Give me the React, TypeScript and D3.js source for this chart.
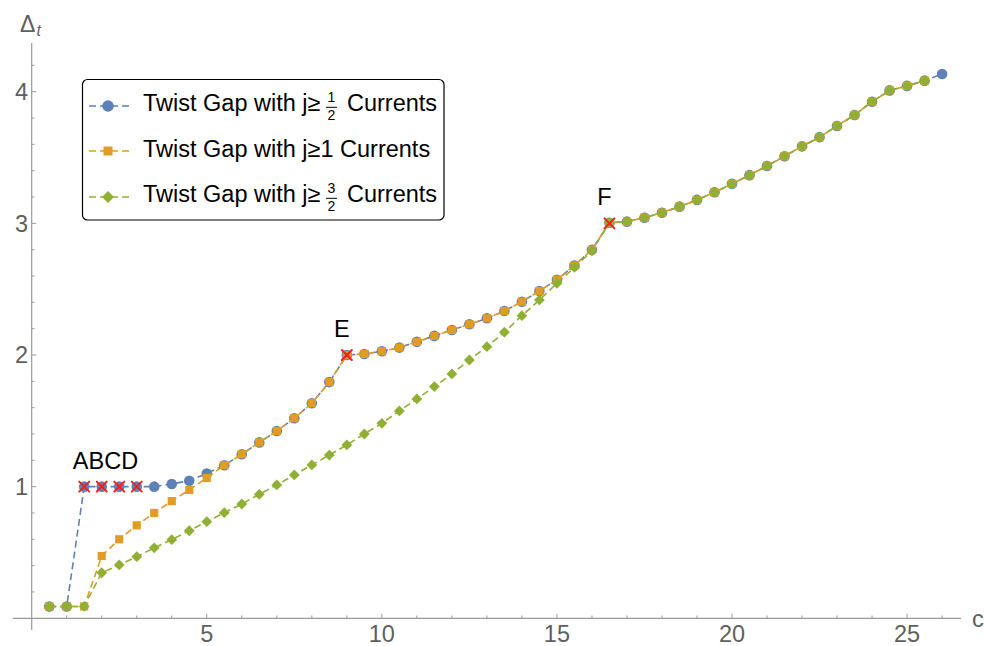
import React from 'react';
import * as d3 from 'd3';

// ---------- data ----------
const cValues = [
  0.5, 1, 1.5, 2, 2.5, 3, 3.5, 4, 4.5, 5, 5.5, 6, 6.5, 7, 7.5, 8, 8.5, 9, 9.5, 10,
  10.5, 11, 11.5, 12, 12.5, 13, 13.5, 14, 14.5, 15, 15.5, 16, 16.5, 17, 17.5, 18,
  18.5, 19, 19.5, 20, 20.5, 21, 21.5, 22, 22.5, 23, 23.5, 24, 24.5, 25, 25.5, 26,
];

// Twist gap with j >= 1/2 currents (c = 0.5 ... 26)
const gapHalf = [
  0.09, 0.09, 1, 1, 1, 1, 1.0, 1.02, 1.045, 1.1, 1.163, 1.246, 1.336, 1.423, 1.52,
  1.634, 1.794, 2.0, 2.008, 2.028, 2.056, 2.1, 2.145, 2.19, 2.233, 2.279, 2.334,
  2.405, 2.486, 2.572, 2.68, 2.8, 3.005, 3.013, 3.043, 3.081, 3.127, 3.178, 3.236,
  3.3, 3.366, 3.436, 3.51, 3.585, 3.655, 3.74, 3.823, 3.924, 4.01, 4.044, 4.084, 4.135,
];

// Twist gap with j >= 1 currents (c = 0.5 ... 25.5)
const gapOne = [
  0.09, 0.09, 0.09, 0.473, 0.6, 0.706, 0.8, 0.89, 0.975, 1.066, 1.163, 1.246, 1.336,
  1.423, 1.52, 1.634, 1.794, 2.0, 2.008, 2.028, 2.056, 2.1, 2.145, 2.19, 2.233, 2.279,
  2.334, 2.405, 2.486, 2.572, 2.68, 2.8, 3.005, 3.013, 3.043, 3.081, 3.127, 3.178,
  3.236, 3.3, 3.366, 3.436, 3.51, 3.585, 3.655, 3.74, 3.823, 3.924, 4.01, 4.044, 4.084,
];

// Twist gap with j >= 3/2 currents (c = 0.5 ... 25.5)
const gapThreeHalves = [
  0.09, 0.09, 0.09, 0.346, 0.405, 0.468, 0.535, 0.597, 0.665, 0.734, 0.802, 0.868,
  0.942, 1.013, 1.089, 1.165, 1.24, 1.317, 1.4, 1.481, 1.575, 1.666, 1.76, 1.856,
  1.962, 2.063, 2.173, 2.299, 2.418, 2.545, 2.665, 2.79, 3.005, 3.013, 3.043, 3.081,
  3.127, 3.178, 3.236, 3.3, 3.366, 3.436, 3.51, 3.585, 3.655, 3.74, 3.823, 3.924,
  4.01, 4.044, 4.084,
];

const seriesJ = [['1', '2'], ['1', ''], ['3', '2']];

const markedC = [1.5, 2, 2.5, 3, 9, 16.5];
const markedV = [1, 1, 1, 1, 2, 3];

const annotationLabels = ['ABCD', 'E', 'F'];
const annotationC = [2.25, 9, 16.5];
const annotationV = [1, 2, 3];

const xTickLabels = [5, 10, 15, 20, 25];
const yTickLabels = [1, 2, 3, 4];

// ---------- styles ----------
const COLORS = ['#5E81B5', '#E19C24', '#8FB032'];
const FONT = "'Liberation Sans', Arial, Helvetica, sans-serif";
const AXIS = '#9a9a9a';
const LABEL = '#5f5f5f';
const FS = 23.5;

const W = 984;
const H = 646;

const x = d3.scaleLinear().domain([-0.534, 26.54]).range([13, 961]);
const y = d3.scaleLinear().domain([-0.089, 4.37]).range([630, 43]);

function Marker({ kind, cx, cy, color, s = 1 }: { kind: number; cx: number; cy: number; color: string; s?: number }) {
  if (kind === 0) return <circle cx={cx} cy={cy} r={5.3 * s} fill={color} />;
  if (kind === 1) {
    const h = 4.1 * s;
    return <rect x={cx - h} y={cy - h} width={2 * h} height={2 * h} fill={color} />;
  }
  const d = 5.4 * s;
  return <path d={`M${cx},${cy - d}L${cx + d},${cy}L${cx},${cy + d}L${cx - d},${cy}Z`} fill={color} />;
}

function Cross({ cx, cy }: { cx: number; cy: number }) {
  const h = 5;
  return (
    <g stroke="#ff1a1a" strokeWidth={2} strokeLinecap="round">
      <line x1={cx - h} y1={cy - h} x2={cx + h} y2={cy + h} />
      <line x1={cx - h} y1={cy + h} x2={cx + h} y2={cy - h} />
    </g>
  );
}

export default function App() {
  const series = [gapHalf, gapOne, gapThreeHalves].map((vals) =>
    vals.map((v, i) => ({ c: cValues[i], v }))
  );
  const line = d3
    .line<{ c: number; v: number }>()
    .x((d) => x(d.c))
    .y((d) => y(d.v));

  const x0 = x(0);
  const y0 = y(0);
  const xMinor = d3.range(1, 27, 1).filter((t) => !xTickLabels.includes(t));
  const yMinor = d3.range(1, 22, 1).map((k) => k / 5).filter((t) => !yTickLabels.some((m) => Math.abs(m - t) < 1e-9));

  const legendRows = [106, 151, 197];
  const legendText = [110.5, 157, 202];

  return (
    <svg width={W} height={H} style={{ position: 'absolute', left: 0, top: 0, background: '#fff' }} fontFamily={FONT}>
      {/* axes */}
      <line x1={x.range()[0]} x2={x.range()[1]} y1={y0} y2={y0} stroke={AXIS} strokeWidth={1.2} />
      <line x1={x0} x2={x0} y1={y.range()[0]} y2={y.range()[1]} stroke={AXIS} strokeWidth={1.2} />
      {xMinor.map((t) => (
        <line key={'xm' + t} x1={x(t)} x2={x(t)} y1={y0} y2={y0 - 2.8} stroke={AXIS} strokeWidth={1} />
      ))}
      {xTickLabels.map((t) => (
        <g key={'xt' + t}>
          <line x1={x(t)} x2={x(t)} y1={y0} y2={y0 - 4.6} stroke={AXIS} strokeWidth={1} />
          <text x={x(t)} y={641.5} textAnchor="middle" fontSize={FS} fill={LABEL}>
            {t}
          </text>
        </g>
      ))}
      {yMinor.map((t) => (
        <line key={'ym' + t} x1={x0} x2={x0 + 2.8} y1={y(t)} y2={y(t)} stroke={AXIS} strokeWidth={1} />
      ))}
      {yTickLabels.map((t) => (
        <g key={'yt' + t}>
          <line x1={x0} x2={x0 + 4.6} y1={y(t)} y2={y(t)} stroke={AXIS} strokeWidth={1} />
          <text x={28} y={y(t) + 8.5} textAnchor="end" fontSize={FS} fill={LABEL}>
            {t}
          </text>
        </g>
      ))}
      <text x={972} y={627} fontSize={FS} fill={LABEL}>
        c
      </text>
      <text x={20} y={32} fontSize={23} fill={LABEL}>
        Δ
      </text>
      <text x={36.5} y={36} fontSize={16} fontStyle="italic" fill={LABEL}>
        t
      </text>

      {/* series */}
      {series.map((pts, si) => (
        <g key={'s' + si}>
          <path d={line(pts) || ''} fill="none" stroke={COLORS[si]} strokeWidth={1.6} strokeDasharray="7,4" />
          {pts.map((p, i) => (
            <Marker key={i} kind={si} cx={x(p.c)} cy={y(p.v)} color={COLORS[si]} />
          ))}
        </g>
      ))}

      {/* special points */}
      {markedC.map((c, i) => (
        <Cross key={'x' + i} cx={x(c)} cy={y(markedV[i])} />
      ))}
      {annotationLabels.map((l, i) => (
        <text key={l} x={x(annotationC[i]) - 5} y={y(annotationV[i]) - 18} textAnchor="middle" fontSize={FS} fill="#000">
          {l}
        </text>
      ))}

      {/* legend */}
      <rect x={82.5} y={79.5} width={361.5} height={140.5} rx={5} fill="#fff" stroke="#000" strokeWidth={1.2} />
      {seriesJ.map((j, i) => {
        const ry = legendRows[i];
        const ty = legendText[i];
        const frac = j[1] !== '';
        return (
          <g key={'lg' + i}>
            <line x1={89} x2={130} y1={ry} y2={ry} stroke={COLORS[i]} strokeWidth={1.6} strokeDasharray="7,4" />
            <Marker kind={i} cx={108} cy={ry} color={COLORS[i]} s={1.1} />
            {frac ? (
              <>
                <text x={143} y={ty} fontSize={FS} fill="#000">
                  Twist Gap with j≥
                </text>
                <text x={331.5} y={ry - 4} textAnchor="middle" fontSize={14} fill="#000">
                  {j[0]}
                </text>
                <line x1={326} x2={337} y1={ry + 1.3} y2={ry + 1.3} stroke="#000" strokeWidth={1} />
                <text x={331.5} y={ry + 14} textAnchor="middle" fontSize={14} fill="#000">
                  {j[1]}
                </text>
                <text x={347} y={ty} fontSize={FS} fill="#000">
                  Currents
                </text>
              </>
            ) : (
              <text x={143} y={ty} fontSize={FS} fill="#000">
                {`Twist Gap with j≥${j[0]} Currents`}
              </text>
            )}
          </g>
        );
      })}
    </svg>
  );
}
